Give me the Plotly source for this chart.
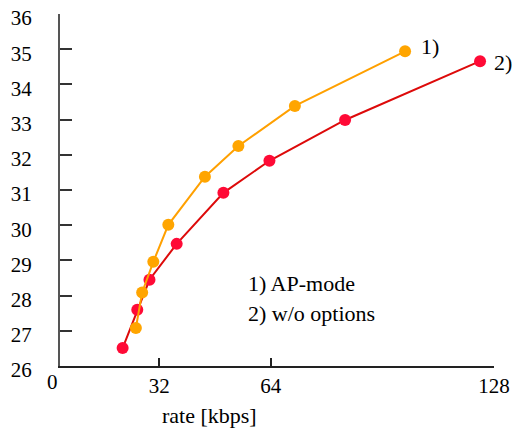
import plotly.graph_objects as go

# Data
ap_rate = [25.3, 27.1, 30.3, 34.6, 45.1, 54.7, 70.9, 102.5]
ap_psnr = [27.08, 28.09, 28.96, 30.01, 31.38, 32.25, 33.39, 34.94]
wo_rate = [21.5, 25.7, 29.2, 37.0, 50.4, 63.6, 85.3, 124.0]
wo_psnr = [26.51, 27.6, 28.45, 29.47, 30.92, 31.83, 32.99, 34.66]

x_ticks = [32, 64, 128]
y_ticks = [26, 27, 28, 29, 30, 31, 32, 33, 34, 35, 36]
legend_lines = ["1) AP-mode", "2) w/o options"]
end_labels = ["1)", "2)"]
x_title = "rate [kbps]"

FONT = "Liberation Serif, serif"
PXU = 3.487  # pixels per x unit
x_min = 3.54

fig = go.Figure()
fig.add_trace(go.Scatter(
    x=wo_rate, y=wo_psnr, mode="lines+markers",
    line=dict(color="#DD0A0A", width=2),
    marker=dict(color="#FF0A36", size=12),
    cliponaxis=False, showlegend=False))
fig.add_trace(go.Scatter(
    x=ap_rate, y=ap_psnr, mode="lines+markers",
    line=dict(color="#FFA000", width=2),
    marker=dict(color="#FFA500", size=12),
    cliponaxis=False, showlegend=False))

fig.update_layout(
    width=513, height=429,
    margin=dict(l=60, r=19, t=14, b=63, autoexpand=False),
    paper_bgcolor="white", plot_bgcolor="white",
    font=dict(family=FONT, size=21, color="black"),
    xaxis=dict(range=[x_min, 128.001], tickvals=x_ticks, automargin=False,
               ticks="inside", ticklen=8, tickwidth=1.5, tickcolor="#222",
               showline=True, linecolor="#222", linewidth=1.5,
               showgrid=False, zeroline=False,
               tickfont=dict(family=FONT, size=21, color="black")),
    yaxis=dict(range=[26, 36.001], tickvals=y_ticks, automargin=False,
               ticks="inside", ticklen=12, tickwidth=1.5, tickcolor="#333",
               showline=True, linecolor="#555", linewidth=2,
               showgrid=False, zeroline=False,
               ticklabelstandoff=22, ticklabelshift=4,
               tickfont=dict(family=FONT, size=21, color="black")),
)

# "0" at the origin
fig.add_annotation(x=x_min, y=26, xref="x", yref="y", text="0", showarrow=False,
                   xshift=-8, yshift=-16, font=dict(family=FONT, size=21))
# x-axis title
fig.add_annotation(xref="x", x=x_min + (209 - 60) / PXU,
                   yref="paper", y=-0.142, yanchor="middle",
                   text=x_title, showarrow=False,
                   font=dict(family=FONT, size=22))
# legend text
for i, t in enumerate(legend_lines):
    fig.add_annotation(x=x_min + (246 - 60) / PXU, y=28.35 - i * 0.85,
                       xref="x", yref="y", text=t, showarrow=False,
                       xanchor="left", yanchor="middle",
                       font=dict(family=FONT, size=22))
# end labels
fig.add_annotation(x=ap_rate[-1], y=ap_psnr[-1], xref="x", yref="y",
                   text=end_labels[0], showarrow=False, xanchor="left",
                   xshift=14, yshift=5, font=dict(family=FONT, size=22))
fig.add_annotation(x=wo_rate[-1], y=wo_psnr[-1], xref="x", yref="y",
                   text=end_labels[1], showarrow=False, xanchor="left",
                   xshift=12, yshift=-1, font=dict(family=FONT, size=22))

fig.write_html("out.html", config={"displayModeBar": False},
               post_script="document.body.style.margin='0';")
